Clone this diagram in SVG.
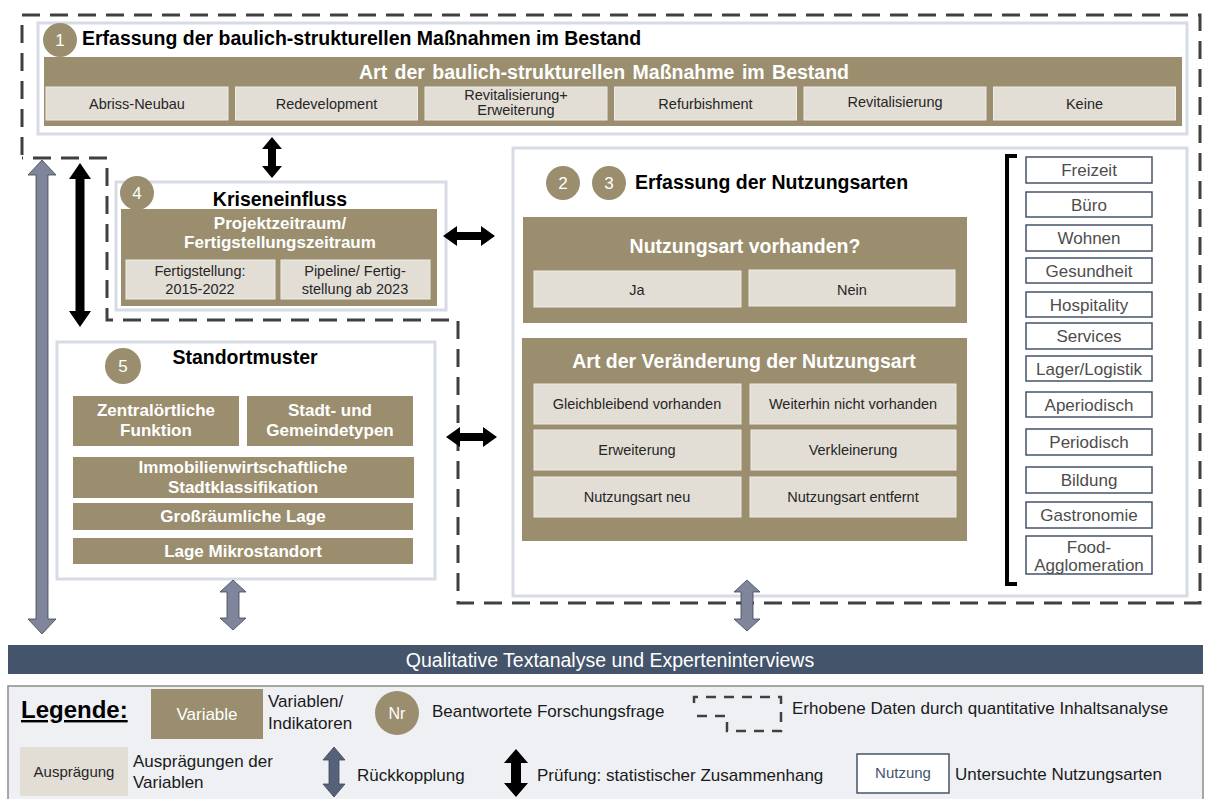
<svg xmlns="http://www.w3.org/2000/svg" width="1205" height="799" viewBox="0 0 1205 799">
<style>
text{font-family:"Liberation Sans",Arial,sans-serif}
.frame{fill:#fff;stroke:#d6dbe5;stroke-width:3}
.var{fill:#9a8e6e}
.sub{fill:#e2ded6;stroke:#eeebe5;stroke-width:1}
.circ{fill:#9a8e6e}
.cn{fill:#fff;font-size:17px;text-anchor:middle}
.title{font-size:19.5px;font-weight:bold;fill:#000}
.vt{font-size:19.5px;font-weight:bold;fill:#fff;text-anchor:middle}
.vt2{font-size:17px;font-weight:bold;fill:#fff;text-anchor:middle}
.st{font-size:14.5px;fill:#262626;text-anchor:middle}
.nb{fill:#fff;stroke:#44546a;stroke-width:1.5}
.nt{font-size:17px;fill:#4d4d4d;text-anchor:middle}
.dash{fill:none;stroke:#404040;stroke-width:3;stroke-dasharray:18 10}
.blk{fill:#000}
.gry{fill:#7f859a;stroke:#3d4454;stroke-width:0.8}
.lt{font-size:17px;fill:#1a1a1a}
</style>

<g id="dashed-outline">
<path class="dash" d="M22,155 V15 H1200 V603 H458 V320 H107 V158 H22"/>
</g>

<g id="node-1">
<rect class="frame" x="38" y="23" width="1149" height="111"/>
<circle class="circ" cx="60" cy="40" r="17"/>
<text class="cn" x="60" y="46">1</text>
<text class="title" x="82" y="45">Erfassung der baulich-strukturellen Maßnahmen im Bestand</text>
<rect class="var" x="44" y="57" width="1138" height="69"/>
<text class="vt" x="604" y="79" font-size="19" word-spacing="2">Art der baulich-strukturellen Maßnahme im Bestand</text>
<rect class="sub" x="46" y="87" width="182" height="33"/>
<text class="st" x="137" y="109">Abriss-Neubau</text>
<rect class="sub" x="235.5" y="87" width="182" height="33"/>
<text class="st" x="326.5" y="109">Redevelopment</text>
<rect class="sub" x="425" y="87" width="182" height="33"/>
<text class="st" x="516" y="100" font-size="13">Revitalisierung+</text>
<text class="st" x="516" y="115" font-size="13">Erweiterung</text>
<rect class="sub" x="614.5" y="87" width="182" height="33"/>
<text class="st" x="705.5" y="109">Refurbishment</text>
<rect class="sub" x="804" y="87" width="182" height="33"/>
<text class="st" x="895" y="107">Revitalisierung</text>
<rect class="sub" x="993.5" y="87" width="182" height="33"/>
<text class="st" x="1084.5" y="109">Keine</text>
</g>

<g id="node-4">
<rect class="frame" x="116" y="182" width="330" height="128"/>
<circle class="circ" cx="137" cy="193" r="17"/>
<text class="cn" x="137" y="199">4</text>
<text class="title" x="280" y="206" text-anchor="middle">Kriseneinfluss</text>
<rect class="var" x="121" y="209" width="316" height="97"/>
<text class="vt2" x="280" y="229">Projektzeitraum/</text>
<text class="vt2" x="280" y="248">Fertigstellungszeitraum</text>
<rect class="sub" x="126" y="260" width="149" height="39"/>
<text class="st" x="200" y="276">Fertigstellung:</text>
<text class="st" x="200" y="294">2015-2022</text>
<rect class="sub" x="281" y="260" width="149" height="39"/>
<text class="st" x="355" y="276">Pipeline/ Fertig-</text>
<text class="st" x="355" y="294">stellung ab 2023</text>
</g>

<g id="node-5">
<rect class="frame" x="57" y="342" width="378" height="237"/>
<circle class="circ" cx="123" cy="366" r="18"/>
<text class="cn" x="123" y="372">5</text>
<text class="title" x="245" y="364" text-anchor="middle">Standortmuster</text>
<rect class="var" x="73" y="396" width="166" height="50"/>
<text class="vt2" x="156" y="416">Zentralörtliche</text>
<text class="vt2" x="156" y="436">Funktion</text>
<rect class="var" x="247" y="396" width="166" height="50"/>
<text class="vt2" x="330" y="416">Stadt- und</text>
<text class="vt2" x="330" y="436">Gemeindetypen</text>
<rect class="var" x="73" y="457" width="341" height="41"/>
<text class="vt2" x="243" y="473">Immobilienwirtschaftliche</text>
<text class="vt2" x="243" y="493">Stadtklassifikation</text>
<rect class="var" x="73" y="503" width="340" height="27"/>
<text class="vt2" x="243" y="522">Großräumliche Lage</text>
<rect class="var" x="73" y="538" width="340" height="26"/>
<text class="vt2" x="243" y="557">Lage Mikrostandort</text>
</g>

<g id="node-2-3">
<rect class="frame" x="513" y="148" width="674" height="448"/>
<circle class="circ" cx="563" cy="183" r="17"/>
<text class="cn" x="563" y="189">2</text>
<circle class="circ" cx="609" cy="183" r="17"/>
<text class="cn" x="609" y="189">3</text>
<text class="title" x="635" y="189">Erfassung der Nutzungsarten</text>
<rect class="var" x="523" y="217" width="444" height="106"/>
<text class="vt" x="745" y="253">Nutzungsart vorhanden?</text>
<rect class="sub" x="534" y="271" width="207" height="36"/>
<text class="st" x="637" y="295" font-size="16">Ja</text>
<rect class="sub" x="749" y="270" width="206" height="36"/>
<text class="st" x="852" y="295" font-size="16">Nein</text>
<rect class="var" x="522" y="338" width="445" height="203"/>
<text class="vt" x="744" y="368">Art der Veränderung der Nutzungsart</text>
<rect class="sub" x="534" y="384" width="207" height="40"/>
<text class="st" x="637" y="409">Gleichbleibend vorhanden</text>
<rect class="sub" x="750" y="384" width="206" height="40"/>
<text class="st" x="853" y="409">Weiterhin nicht vorhanden</text>
<rect class="sub" x="534" y="430" width="207" height="40"/>
<text class="st" x="637" y="455">Erweiterung</text>
<rect class="sub" x="751" y="430" width="205" height="40"/>
<text class="st" x="853" y="455">Verkleinerung</text>
<rect class="sub" x="534" y="477" width="207" height="40"/>
<text class="st" x="637" y="502">Nutzungsart neu</text>
<rect class="sub" x="750" y="477" width="206" height="40"/>
<text class="st" x="853" y="502">Nutzungsart entfernt</text>
</g>

<g id="nutzungsarten">
<path d="M1017,156 H1007 V584 H1017" fill="none" stroke="#000" stroke-width="4"/>
<rect class="nb" x="1026" y="157" width="126" height="26"/>
<text class="nt" x="1089" y="176">Freizeit</text>
<rect class="nb" x="1026" y="192" width="126" height="25"/>
<text class="nt" x="1089" y="211">Büro</text>
<rect class="nb" x="1026" y="225" width="126" height="26"/>
<text class="nt" x="1089" y="244">Wohnen</text>
<rect class="nb" x="1026" y="258" width="126" height="25"/>
<text class="nt" x="1089" y="277">Gesundheit</text>
<rect class="nb" x="1026" y="292" width="126" height="25"/>
<text class="nt" x="1089" y="311">Hospitality</text>
<rect class="nb" x="1026" y="323" width="126" height="26"/>
<text class="nt" x="1089" y="342">Services</text>
<rect class="nb" x="1026" y="356" width="126" height="25"/>
<text class="nt" x="1089" y="375">Lager/Logistik</text>
<rect class="nb" x="1026" y="392" width="126" height="25"/>
<text class="nt" x="1089" y="411">Aperiodisch</text>
<rect class="nb" x="1026" y="429" width="126" height="26"/>
<text class="nt" x="1089" y="448">Periodisch</text>
<rect class="nb" x="1026" y="467" width="126" height="26"/>
<text class="nt" x="1089" y="486">Bildung</text>
<rect class="nb" x="1026" y="502" width="126" height="26"/>
<text class="nt" x="1089" y="521">Gastronomie</text>
<rect class="nb" x="1026" y="536" width="126" height="38"/>
<text class="nt" x="1089" y="553">Food-</text>
<text class="nt" x="1089" y="571">Agglomeration</text>
</g>

<g id="connectors">
<polygon class="blk" points="272,137 282,149 276,149 276,166 282,166 272,178 262,166 268,166 268,149 262,149"/>
<polygon class="blk" points="80,163 91,179 84.5,179 84.5,311 91,311 80,327 69,311 75.5,311 75.5,179 69,179"/>
<polygon class="blk" points="443,236 457,226 457,232 481,232 481,226 495,236 481,246 481,240 457,240 457,246"/>
<polygon class="blk" points="446,437 460,427 460,433 483,433 483,427 497,437 483,447 483,441 460,441 460,447"/>
<polygon class="gry" points="42,160 56,175 48,175 48,619 56,619 42,634 28,619 36,619 36,175 28,175"/>
<polygon class="gry" points="233,580 246,592 239,592 239,618 246,618 233,630 220,618 227,618 227,592 220,592"/>
<polygon class="gry" points="747,580 760,592 753,592 753,619 760,619 747,631 734,619 741,619 741,592 734,592"/>
</g>

<g id="method-bar">
<rect x="8" y="645" width="1195" height="29" fill="#44546a"/>
<text x="610" y="667" font-size="19.5" fill="#fff" text-anchor="middle">Qualitative Textanalyse und Experteninterviews</text>
</g>

<g id="legend">
<rect x="8" y="686" width="1195" height="120" fill="#eef0f4" stroke="#8c8c8c" stroke-width="1.5"/>
<text x="21" y="718" font-size="24" font-weight="bold" fill="#000" text-decoration="underline">Legende:</text>
<rect x="151" y="689" width="112" height="50" fill="#9a8e6e"/>
<text x="207" y="720" font-size="17" fill="#fff" text-anchor="middle">Variable</text>
<text class="lt" x="268" y="707">Variablen/</text>
<text class="lt" x="268" y="729">Indikatoren</text>
<circle class="circ" cx="397" cy="713" r="22"/>
<text x="397" y="719" font-size="16" fill="#fff" text-anchor="middle">Nr</text>
<text class="lt" x="432" y="717">Beantwortete Forschungsfrage</text>
<path d="M694,703 V697 H781 V731 H727 V716 H694" fill="none" stroke="#404040" stroke-width="2.5" stroke-dasharray="10 8"/>
<text class="lt" x="792" y="714">Erhobene Daten durch quantitative Inhaltsanalyse</text>
<rect x="20" y="747" width="108" height="49" fill="#e2ded6"/>
<text x="74" y="777" font-size="15" fill="#262626" text-anchor="middle">Ausprägung</text>
<text class="lt" x="133" y="767">Ausprägungen der</text>
<text class="lt" x="133" y="788">Variablen</text>
<polygon points="334,747 345,760 339,760 339,784 345,784 334,797 323,784 329,784 329,760 323,760" fill="#56627a" stroke="#3d4454" stroke-width="0.8"/>
<text class="lt" x="357" y="781">Rückkopplung</text>
<polygon class="blk" points="516,749 528,763 521,763 521,783 528,783 516,797 504,783 511,783 511,763 504,763"/>
<text class="lt" x="537" y="781">Prüfung: statistischer Zusammenhang</text>
<rect x="857" y="754" width="92" height="39" fill="#fff" stroke="#44546a" stroke-width="1.5"/>
<text x="903" y="778" font-size="15" fill="#44546a" text-anchor="middle">Nutzung</text>
<text class="lt" x="955" y="780">Untersuchte Nutzungsarten</text>
</g>
</svg>
